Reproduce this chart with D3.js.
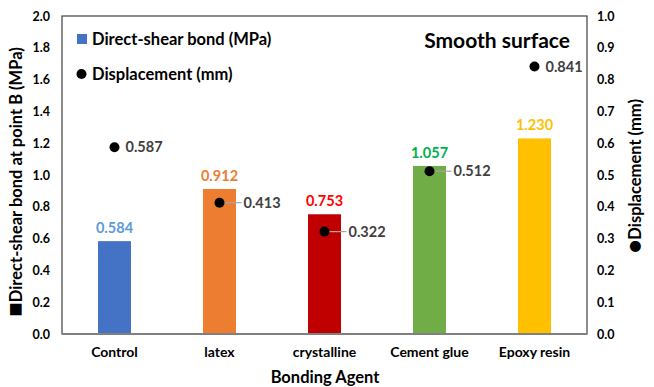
<!DOCTYPE html>
<html>
<head>
<meta charset="utf-8">
<script src="https://cdn.jsdelivr.net/npm/d3@7"></script>
<style>
  html, body { margin: 0; padding: 0; background: #fff; }
  svg text { font-family: Lato, "Open Sans", sans-serif; font-weight: bold; }
</style>
</head>
<body>
<svg id="chart" width="654" height="387"></svg>
<script>
// Bonding agents on the x axis
const categories = ["Control", "latex", "crystalline", "Cement glue", "Epoxy resin"];
// Direct-shear bond at point B (MPa), left axis
const bondValues = [0.584, 0.912, 0.753, 1.057, 1.230];
// Displacement (mm), right axis
const displacementValues = [0.587, 0.413, 0.322, 0.512, 0.841];
// Bar fill and value-label colours per agent
const barColors = ["#4472C4", "#ED7D31", "#C00000", "#70AD47", "#FFC000"];
const barLabelColors = ["#5B9BD5", "#ED7D31", "#FF0000", "#00B050", "#FFC000"];
// Tick labels
const leftTicks = [0, 0.2, 0.4, 0.6, 0.8, 1.0, 1.2, 1.4, 1.6, 1.8, 2.0];
const rightTicks = [0, 0.1, 0.2, 0.3, 0.4, 0.5, 0.6, 0.7, 0.8, 0.9, 1.0];
// Displacement labels that sit off to the side with a leader line
const leaderFlags = [false, true, true, true, false];

const svg = d3.select("#chart");
const plot = { left: 62, right: 587, top: 16, bottom: 334 };

const x = d3.scaleBand().domain(categories).range([plot.left, plot.right]).paddingInner(0.686).paddingOuter(0.343);
const yL = d3.scaleLinear().domain([0, 2]).range([plot.bottom, plot.top]);
const yR = d3.scaleLinear().domain([0, 1]).range([plot.bottom, plot.top]);

// Plot frame
svg.append("rect")
  .attr("x", plot.left).attr("y", plot.top)
  .attr("width", plot.right - plot.left).attr("height", plot.bottom - plot.top)
  .attr("fill", "none").attr("stroke", "#404040").attr("stroke-width", 1.2);

// Left axis
const leftAxis = d3.axisLeft(yL).tickValues(leftTicks).tickFormat(d3.format(".1f")).tickSize(0).tickPadding(12);
const gL = svg.append("g").attr("transform", `translate(${plot.left},0)`).call(leftAxis);
gL.select(".domain").remove();
gL.selectAll("text").attr("font-size", 12.5).attr("fill", "#000").style("font-family", "Lato, sans-serif").style("font-weight", "bold");

// Right axis
const rightAxis = d3.axisRight(yR).tickValues(rightTicks).tickFormat(d3.format(".1f")).tickSize(0).tickPadding(10);
const gR = svg.append("g").attr("transform", `translate(${plot.right},0)`).call(rightAxis);
gR.select(".domain").remove();
gR.selectAll("text").attr("font-size", 12.5).attr("fill", "#000").style("font-family", "Lato, sans-serif").style("font-weight", "bold");

// Bars
svg.append("g").selectAll("rect").data(categories).join("rect")
  .attr("x", d => x(d))
  .attr("y", (d, i) => yL(bondValues[i]))
  .attr("width", x.bandwidth())
  .attr("height", (d, i) => yL(0) - yL(bondValues[i]))
  .attr("fill", (d, i) => barColors[i]);

// Bottom axis line
svg.append("line")
  .attr("x1", plot.left).attr("x2", plot.right)
  .attr("y1", plot.bottom).attr("y2", plot.bottom)
  .attr("stroke", "#808080").attr("stroke-width", 2);

// Bar value labels
svg.append("g").selectAll("text").data(categories).join("text")
  .attr("x", d => x(d) + x.bandwidth() / 2)
  .attr("y", (d, i) => yL(bondValues[i]) - 8)
  .attr("text-anchor", "middle")
  .attr("font-size", 14.5)
  .attr("fill", (d, i) => barLabelColors[i])
  .text((d, i) => bondValues[i].toFixed(3));

// Displacement points
const cx = d => x(d) + x.bandwidth() / 2;
const leaders = svg.append("g");
categories.forEach((d, i) => {
  if (leaderFlags[i]) {
    leaders.append("line")
      .attr("x1", cx(d)).attr("x2", cx(d) + 22)
      .attr("y1", yR(displacementValues[i])).attr("y2", yR(displacementValues[i]))
      .attr("stroke", "#A6A6A6").attr("stroke-width", 1.2);
  }
});
svg.append("g").selectAll("circle").data(categories).join("circle")
  .attr("cx", cx)
  .attr("cy", (d, i) => yR(displacementValues[i]))
  .attr("r", 5)
  .attr("fill", "#000");
svg.append("g").selectAll("text").data(categories).join("text")
  .attr("x", (d, i) => cx(d) + (leaderFlags[i] ? 24 : 11))
  .attr("y", (d, i) => yR(displacementValues[i]) + 5)
  .attr("font-size", 14.5)
  .attr("fill", "#404040")
  .text((d, i) => displacementValues[i].toFixed(3));

// Category labels
svg.append("g").selectAll("text").data(categories).join("text")
  .attr("x", d => cx(d))
  .attr("y", 357)
  .attr("text-anchor", "middle")
  .attr("font-size", 14)
  .attr("fill", "#000")
  .text(d => d);

// X axis title
svg.append("text").attr("x", 325).attr("y", 383).attr("text-anchor", "middle")
  .attr("font-size", 16.5).attr("fill", "#000").text("Bonding Agent");

// Y axis titles (larger marker glyph in front)
const leftTitle = svg.append("text").attr("transform", "translate(22,182) rotate(-90)").attr("text-anchor", "middle")
  .attr("font-size", 16.5).attr("fill", "#000");
leftTitle.append("tspan").attr("font-size", 24).attr("dy", 1).text("■");
leftTitle.append("tspan").attr("dy", -1).text("Direct-shear bond at point B (MPa)");
const rightTitle = svg.append("text").attr("transform", "translate(641,176) rotate(-90)").attr("text-anchor", "middle")
  .attr("font-size", 16.5).attr("fill", "#000");
rightTitle.append("tspan").attr("font-size", 22).attr("dy", 1).text("●");
rightTitle.append("tspan").attr("dy", -1).text("Displacement (mm)");

// Chart title
svg.append("text").attr("x", 570).attr("y", 48).attr("text-anchor", "end")
  .attr("font-size", 21).attr("fill", "#000").text("Smooth surface");

// Legend
const legend = svg.append("g");
legend.append("rect").attr("x", 77).attr("y", 34).attr("width", 10).attr("height", 10).attr("fill", barColors[0]);
legend.append("text").attr("x", 92).attr("y", 45).attr("font-size", 16.5).attr("fill", "#000").text("Direct-shear bond (MPa)");
legend.append("circle").attr("cx", 81.5).attr("cy", 74).attr("r", 5).attr("fill", "#000");
legend.append("text").attr("x", 92).attr("y", 80).attr("font-size", 16.5).attr("fill", "#000").text("Displacement (mm)");
</script>
</body>
</html>
